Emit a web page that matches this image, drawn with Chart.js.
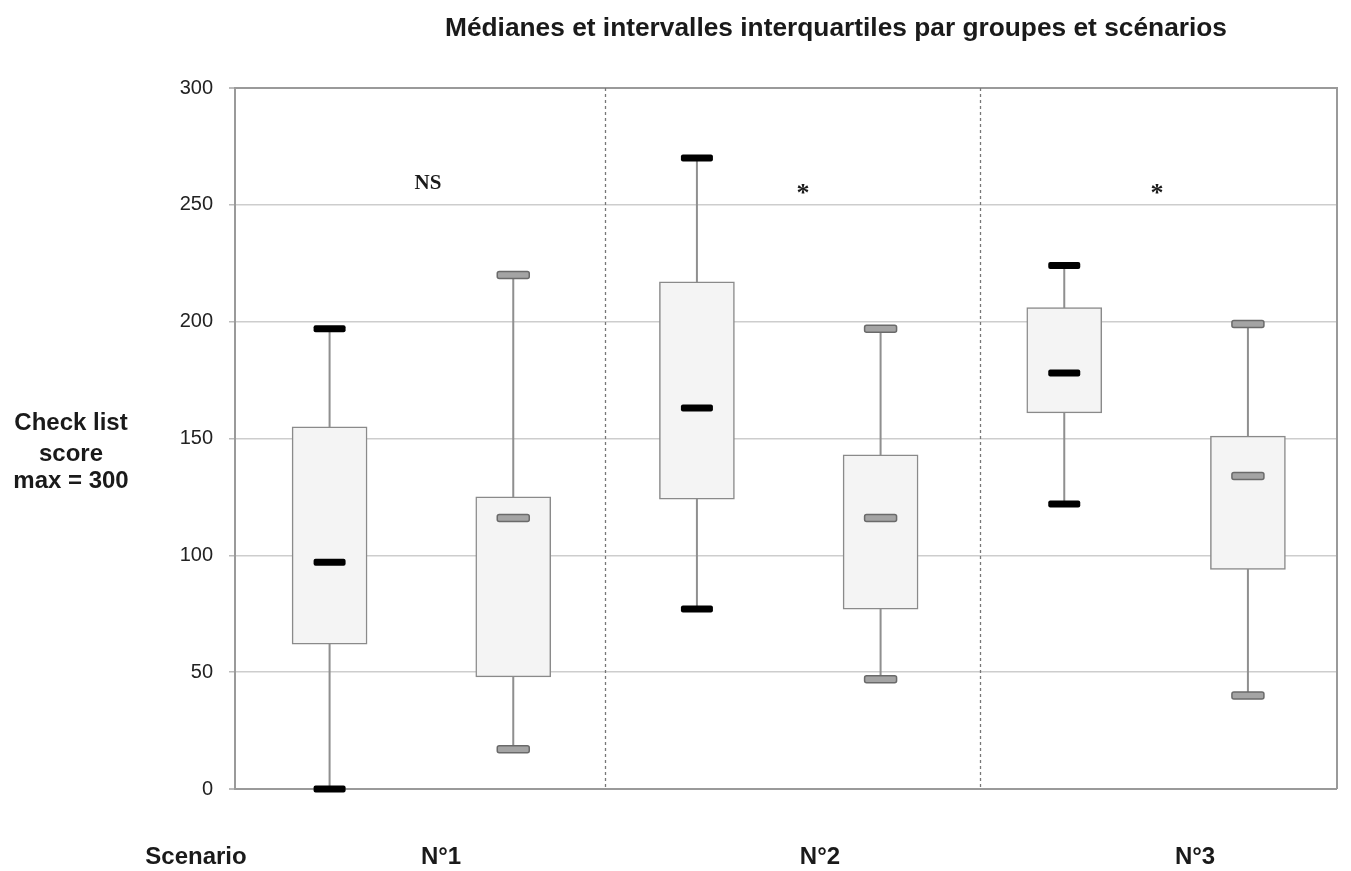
<!DOCTYPE html>
<html>
<head>
<meta charset="utf-8">
<script src="https://cdn.jsdelivr.net/npm/chart.js@4/dist/chart.umd.min.js"></script>
<style>
html,body{margin:0;padding:0;background:#fff;}
#wrap{width:1351px;height:871px;position:relative;}
</style>
</head>
<body>
<div id="wrap"><canvas id="c"></canvas></div>
<script>
// ---- data ----
const scenarios = ['N°1', 'N°2', 'N°3'];
const significance = ['NS', '*', '*'];
const groups = ['Groupe 1', 'Groupe 2'];
const boxLabels = ['N°1 Groupe 1', 'N°1 Groupe 2', 'N°2 Groupe 1', 'N°2 Groupe 2', 'N°3 Groupe 1', 'N°3 Groupe 2'];
const mins    = [0,   17,  77,  47,  122, 40];
const q1s     = [62,  48,  124, 77,  161, 94];
const medians = [97,  116, 163, 116, 178, 134];
const q3s     = [155, 125, 217, 143, 206, 151];
const maxs    = [197, 220, 270, 197, 224, 199];
const yTicks  = [0, 50, 100, 150, 200, 250, 300];
const yTitle  = ['Check list', 'score', 'max = 300'];
const title   = 'Médianes et intervalles interquartiles par groupes et scénarios';
const xTitle  = 'Scenario';

// layout helpers (axis units)
const dividerX = [1.499, 3.541];
const scenarioLabelX = [0.607, 2.67, 4.712];
const signifX = [0.536, 2.577, 4.505];
const signifY = [259, 258, 258];

function rrect(ctx, x, y, w, h, r) {
  ctx.beginPath();
  ctx.moveTo(x + r, y);
  ctx.lineTo(x + w - r, y);
  ctx.quadraticCurveTo(x + w, y, x + w, y + r);
  ctx.lineTo(x + w, y + h - r);
  ctx.quadraticCurveTo(x + w, y + h, x + w - r, y + h);
  ctx.lineTo(x + r, y + h);
  ctx.quadraticCurveTo(x, y + h, x, y + h - r);
  ctx.lineTo(x, y + r);
  ctx.quadraticCurveTo(x, y, x + r, y);
  ctx.closePath();
}

function drawMark(ctx, cx, cy, isBlack) {
  const w = 32, h = 7;
  rrect(ctx, cx - w / 2, cy - h / 2, w, h, 2);
  if (isBlack) {
    ctx.fillStyle = '#000';
    ctx.fill();
  } else {
    ctx.fillStyle = '#a4a4a4';
    ctx.fill();
    ctx.lineWidth = 1.5;
    ctx.strokeStyle = '#6a6a6a';
    ctx.stroke();
  }
}

const boxPlugin = {
  id: 'boxPlugin',
  beforeDatasetsDraw(chart) {
    const {ctx, chartArea: a, scales: {x, y}} = chart;
    ctx.save();
    ctx.strokeStyle = '#9a9a9a';
    ctx.lineWidth = 2;
    ctx.beginPath();
    ctx.moveTo(a.left, a.top);
    ctx.lineTo(a.right, a.top);
    ctx.lineTo(a.right, a.bottom);
    ctx.stroke();
    ctx.strokeStyle = '#777';
    ctx.lineWidth = 1.3;
    ctx.setLineDash([3, 3]);
    dividerX.forEach(v => {
      const px = Math.round(x.getPixelForValue(v)) + 0.5;
      ctx.beginPath();
      ctx.moveTo(px, a.top);
      ctx.lineTo(px, a.bottom);
      ctx.stroke();
    });
    ctx.setLineDash([]);
    ctx.strokeStyle = '#8f8f8f';
    ctx.lineWidth = 2;
    mins.forEach((m, i) => {
      const px = x.getPixelForValue(i);
      ctx.beginPath();
      ctx.moveTo(px, y.getPixelForValue(m));
      ctx.lineTo(px, y.getPixelForValue(maxs[i]));
      ctx.stroke();
    });
    ctx.restore();
  },
  afterDatasetsDraw(chart) {
    const {ctx, scales: {x, y}} = chart;
    ctx.save();
    mins.forEach((m, i) => {
      const px = x.getPixelForValue(i);
      const black = i % 2 === 0;
      drawMark(ctx, px, y.getPixelForValue(maxs[i]), black);
      drawMark(ctx, px, y.getPixelForValue(m), black);
      drawMark(ctx, px, y.getPixelForValue(medians[i]), black);
    });
    ctx.restore();
  },
  afterDraw(chart) {
    const {ctx, scales: {x, y}} = chart;
    ctx.save();
    ctx.fillStyle = '#1a1a1a';
    ctx.font = 'bold 26px "Liberation Sans", Arial, sans-serif';
    ctx.textBaseline = 'middle';
    ctx.textAlign = 'center';
    const tw = ctx.measureText(title).width;
    const targetW = 782;
    ctx.save();
    ctx.translate(836, 29);
    ctx.scale(targetW / tw, 1);
    ctx.fillText(title, 0, 0);
    ctx.restore();
    ctx.font = 'bold 24px "Liberation Sans", Arial, sans-serif';
    const ys = [423, 454, 481];
    yTitle.forEach((t, k) => ctx.fillText(t, 71, ys[k]));
    ctx.fillText(xTitle, 196, 857);
    scenarios.forEach((s, k) => ctx.fillText(s, x.getPixelForValue(scenarioLabelX[k]), 857));
    significance.forEach((s, k) => {
      const px = x.getPixelForValue(signifX[k]);
      const py = y.getPixelForValue(signifY[k]);
      if (s === '*') {
        ctx.font = 'bold 26px "Liberation Serif", "Times New Roman", serif';
        ctx.fillText(s, px, py + 8);
      } else {
        ctx.font = 'bold 21px "Liberation Serif", "Times New Roman", serif';
        ctx.fillText(s, px, py);
      }
    });
    ctx.restore();
  }
};

const chart = new Chart(document.getElementById('c'), {
  type: 'bar',
  data: {
    datasets: [{
      label: 'Intervalle interquartile',
      data: q1s.map((q, i) => ({x: i, y: [q, q3s[i]]})),
      backgroundColor: '#f4f4f4',
      borderColor: '#8a8a8a',
      borderWidth: 1.5,
      borderSkipped: false,
      barThickness: 75
    }]
  },
  options: {
    responsive: true,
    maintainAspectRatio: false,
    animation: false,
    layout: {padding: {left: 0, right: 14, top: 88, bottom: 82}},
    plugins: {legend: {display: false}, tooltip: {enabled: false}, title: {display: false}},
    scales: {
      x: {
        type: 'linear',
        min: -0.515,
        max: 5.485,
        offset: false,
        display: false
      },
      y: {
        min: 0,
        max: 300,
        afterBuildTicks(scale) { scale.ticks = yTicks.map(v => ({value: v})); },
        afterFit(scale) { scale.width = 235; },
        ticks: {
          color: '#222',
          font: {family: '"Liberation Sans", Arial, sans-serif', size: 20},
          padding: 16
        },
        grid: {
          color: ctx => (ctx.tick && (ctx.tick.value === 0 || ctx.tick.value === 300)) ? '#9a9a9a' : '#cdcdcd',
          lineWidth: ctx => (ctx.tick && (ctx.tick.value === 0 || ctx.tick.value === 300)) ? 2 : 1.5,
          tickLength: 6,
          tickColor: '#bbb',
          drawTicks: true
        },
        border: {display: true, color: '#9a9a9a', width: 2}
      }
    }
  },
  plugins: [boxPlugin]
});
</script>
</body>
</html>
